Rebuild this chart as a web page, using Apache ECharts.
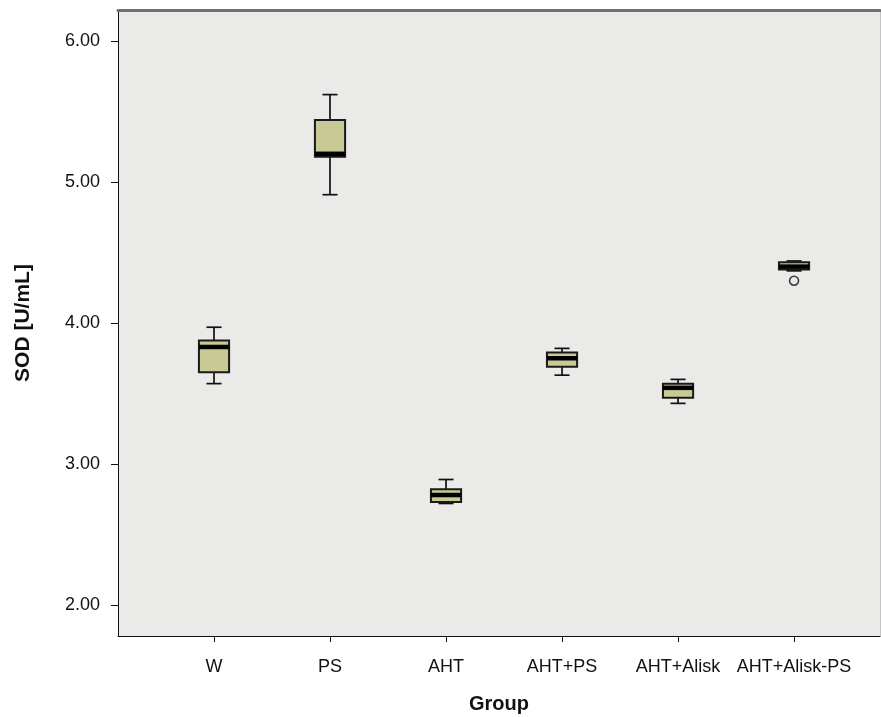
<!DOCTYPE html>
<html>
<head>
<meta charset="utf-8">
<script src="https://cdn.jsdelivr.net/npm/echarts@6/dist/echarts.min.js"></script>
<style>
  html, body { margin: 0; padding: 0; background: #ffffff; }
  #chart { width: 881px; height: 717px; }
</style>
</head>
<body>
<div id="chart"></div>
<script>
// Groups on the horizontal axis
const categories = ['W', 'PS', 'AHT', 'AHT+PS', 'AHT+Alisk', 'AHT+Alisk-PS'];
// Box-plot statistics per group (SOD, U/mL)
const whiskerLow  = [3.57, 4.91, 2.72, 3.63, 3.43, 4.37];
const quartile1   = [3.65, 5.18, 2.73, 3.69, 3.47, 4.38];
const medians     = [3.83, 5.20, 2.78, 3.75, 3.54, 4.40];
const quartile3   = [3.875, 5.44, 2.82, 3.79, 3.57, 4.43];
const whiskerHigh = [3.97, 5.62, 2.89, 3.82, 3.60, 4.44];
// Outliers: [group index, value]
const outliers = [[5, 4.30]];
// Y tick labels
const yTicks = [2, 3, 4, 5, 6];

const boxData = categories.map((c, i) => [i, whiskerLow[i], quartile1[i], medians[i], quartile3[i], whiskerHigh[i]]);
const catIdx = categories.map((c, i) => i);

const FONT = '"Liberation Sans", Arial, sans-serif';

function renderBox(params, api) {
  const x = api.value(0);
  const pLo = api.coord([x, api.value(1)]);
  const pQ1 = api.coord([x, api.value(2)]);
  const pMed = api.coord([x, api.value(3)]);
  const pQ3 = api.coord([x, api.value(4)]);
  const pHi = api.coord([x, api.value(5)]);
  const halfW = api.size([1, 0])[0] * 0.13;
  const capHalf = halfW * 0.5;
  const cx = pMed[0];
  const stroke = { stroke: '#111', lineWidth: 1.7 };
  return {
    type: 'group',
    children: [
      { type: 'line', shape: { x1: cx, y1: pQ1[1], x2: cx, y2: pLo[1] }, style: stroke },
      { type: 'line', shape: { x1: cx, y1: pQ3[1], x2: cx, y2: pHi[1] }, style: stroke },
      { type: 'line', shape: { x1: cx - capHalf, y1: pLo[1], x2: cx + capHalf, y2: pLo[1] }, style: stroke },
      { type: 'line', shape: { x1: cx - capHalf, y1: pHi[1], x2: cx + capHalf, y2: pHi[1] }, style: stroke },
      { type: 'rect', shape: { x: cx - halfW, y: pQ3[1], width: halfW * 2, height: pQ1[1] - pQ3[1] },
        style: { fill: '#c9c995', stroke: '#1a1a1a', lineWidth: 2 } },
      { type: 'line', shape: { x1: cx - halfW, y1: pMed[1], x2: cx + halfW, y2: pMed[1] },
        style: { stroke: '#000', lineWidth: 4.5 } }
    ]
  };
}

const chart = echarts.init(document.getElementById('chart'), null, { renderer: 'canvas' });
chart.setOption({
  animation: false,
  backgroundColor: '#ffffff',
  grid: {
    left: 118, right: 1, top: 10, bottom: 81,
    outerBoundsMode: 'none',
    containLabel: false,
    show: true, backgroundColor: '#eaeae9', borderWidth: 0
  },
  xAxis: [{
    type: 'value',
    min: -0.8276, max: 5.741,
    name: 'Group',
    nameLocation: 'middle',
    nameGap: 58,
    nameTextStyle: { fontFamily: FONT, fontSize: 20, fontWeight: 'bold', color: '#111' },
    splitLine: { show: false },
    axisLine: { show: true, lineStyle: { color: '#111', width: 1 } },
    axisTick: { show: true, length: 6, customValues: catIdx, lineStyle: { color: '#111' } },
    axisLabel: {
      customValues: catIdx,
      margin: 22,
      fontFamily: FONT, fontSize: 18, color: '#111',
      formatter: v => categories[Math.round(v)]
    }
  }, {
    type: 'value',
    position: 'top',
    min: -0.8276, max: 5.741,
    splitLine: { show: false },
    axisLine: { show: true, onZero: false, lineStyle: { color: '#707070', width: 3 } },
    axisTick: { show: false },
    axisLabel: { show: false }
  }],
  yAxis: [{
    type: 'value',
    min: 1.78, max: 6.22,
    name: 'SOD [U/mL]',
    nameLocation: 'middle',
    nameGap: 84,
    nameRotate: 90,
    nameTextStyle: { fontFamily: FONT, fontSize: 21, fontWeight: 'bold', color: '#111' },
    splitLine: { show: false },
    axisLine: { show: true, onZero: false, lineStyle: { color: '#111', width: 1 } },
    axisTick: { show: true, length: 7, customValues: yTicks, lineStyle: { color: '#111' } },
    axisLabel: {
      customValues: yTicks,
      margin: 18,
      fontFamily: FONT, fontSize: 18, color: '#111',
      formatter: v => v.toFixed(2)
    }
  }, {
    type: 'value',
    position: 'right',
    min: 1.78, max: 6.22,
    splitLine: { show: false },
    axisLine: { show: true, onZero: false, lineStyle: { color: '#c4c4c4', width: 1 } },
    axisTick: { show: false },
    axisLabel: { show: false }
  }],
  series: [{
    type: 'custom',
    xAxisIndex: 0, yAxisIndex: 0,
    renderItem: renderBox,
    encode: { x: 0, y: [1, 2, 3, 4, 5] },
    data: boxData,
    z: 3
  }, {
    type: 'scatter',
    xAxisIndex: 0, yAxisIndex: 0,
    symbol: 'circle',
    symbolSize: 9,
    itemStyle: { color: '#eaeae9', borderColor: '#111', borderWidth: 1.6 },
    data: outliers,
    z: 4
  }]
});
</script>
</body>
</html>
